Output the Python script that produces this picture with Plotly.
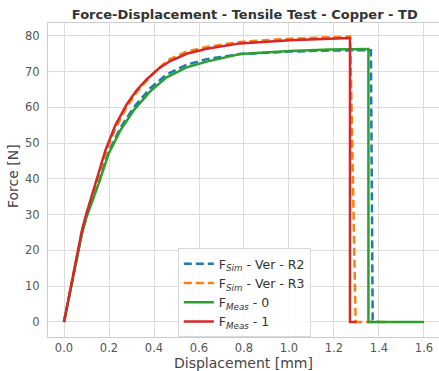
import plotly.graph_objects as go

# Simulation R2 (blue, dashed)
sim_r2_x = [0, 0.056, 0.08, 0.1, 0.154, 0.198, 0.25, 0.31, 0.382, 0.456, 0.545, 0.634, 0.782, 1.004, 1.18, 1.364, 1.372, 1.38, 1.40]
sim_r2_y = [0, 18.0, 25.0, 29.6, 39.0, 47.5, 54.2, 60.0, 65.3, 69.2, 71.9, 73.5, 74.9, 75.6, 75.9, 76.0, 0.6, 0.1, 0]

# Simulation R3 (orange, dashed)
sim_r3_x = [0, 0.056, 0.08, 0.1, 0.139, 0.184, 0.228, 0.278, 0.32, 0.367, 0.42, 0.47, 0.545, 0.634, 0.782, 1.004, 1.18, 1.272, 1.296, 1.30, 1.43]
sim_r3_y = [0, 18.3, 25.5, 30.0, 38.0, 47.0, 54.0, 60.0, 64.0, 67.5, 71.0, 73.5, 75.6, 76.9, 78.3, 79.2, 79.6, 79.8, 0.5, 0, 0]

# Measurement 0 (green)
meas0_x = [0, 0.056, 0.08, 0.1, 0.154, 0.198, 0.25, 0.31, 0.382, 0.456, 0.545, 0.634, 0.782, 1.004, 1.18, 1.353, 1.3531, 1.6]
meas0_y = [0, 17.8, 24.8, 29.3, 38.7, 47.0, 53.5, 59.2, 64.4, 68.4, 71.2, 72.8, 74.9, 75.8, 76.2, 76.3, 0, 0]

# Measurement 1 (red)
meas1_x = [0, 0.056, 0.08, 0.1, 0.139, 0.184, 0.228, 0.278, 0.32, 0.367, 0.42, 0.47, 0.545, 0.634, 0.782, 1.004, 1.18, 1.271, 1.2711, 1.30]
meas1_y = [0, 18.3, 25.7, 30.4, 38.7, 48.0, 55.0, 60.8, 64.6, 67.8, 70.8, 72.9, 75.0, 76.4, 77.9, 78.8, 79.2, 79.4, 0, 0]

x_ticks = [0.0, 0.2, 0.4, 0.6, 0.8, 1.0, 1.2, 1.4, 1.6]
y_ticks = [0, 10, 20, 30, 40, 50, 60, 70, 80]

FONT = "DejaVu Sans"

fig = go.Figure()
fig.add_trace(go.Scatter(x=sim_r2_x, y=sim_r2_y, mode="lines",
                         name="F<sub><i>Sim</i></sub> - Ver - R2",
                         line=dict(color="#1f77b4", width=2.5, dash="8px,4px")))
fig.add_trace(go.Scatter(x=sim_r3_x, y=sim_r3_y, mode="lines",
                         name="F<sub><i>Sim</i></sub> - Ver - R3",
                         line=dict(color="#ff7f0e", width=2.5, dash="8px,4px")))
fig.add_trace(go.Scatter(x=meas0_x, y=meas0_y, mode="lines",
                         name="F<sub><i>Meas</i></sub> - 0",
                         line=dict(color="#2ca02c", width=2.5)))
fig.add_trace(go.Scatter(x=meas1_x, y=meas1_y, mode="lines",
                         name="F<sub><i>Meas</i></sub> - 1",
                         line=dict(color="#d62728", width=2.5)))

axis_common = dict(
    showgrid=True, gridcolor="#dcdcdc", gridwidth=1,
    showline=True, linecolor="#cccccc", linewidth=1, mirror=True,
    ticks="", ticklen=0, zeroline=False,
    tickfont=dict(family=FONT, size=11.5, color="#555555"),
)

fig.update_layout(
    width=439, height=371,
    margin=dict(l=48, r=0, t=23, b=34),
    plot_bgcolor="white", paper_bgcolor="white",
    title=dict(text="<b>Force-Displacement - Tensile Test - Copper - TD</b>",
               x=0.5575, xanchor="center", y=0.96, yanchor="middle",
               font=dict(family=FONT, size=13, color="#333333")),
    xaxis=dict(range=[-0.0711, 1.6667], tickvals=x_ticks,
               ticktext=[f"{v:.1f}" for v in x_ticks],
               ticklabelstandoff=0, **axis_common),
    yaxis=dict(range=[-4.2, 83.6], tickvals=y_ticks,
               ticklabelstandoff=5, **axis_common),
    legend=dict(x=0.332, y=0.283, xanchor="left", yanchor="top",
                bgcolor="rgba(255,255,255,0.85)", bordercolor="#d8d8d8", borderwidth=1,
                font=dict(family=FONT, size=12.5, color="#333333"),
                itemwidth=30, tracegroupgap=0),
    showlegend=True,
    annotations=[
        dict(text="Displacement [mm]", xref="paper", yref="paper",
             x=(243 - 48) / 391, y=-(363 - 337) / 314, xanchor="center", yanchor="middle",
             showarrow=False, font=dict(family=FONT, size=14, color="#444444")),
        dict(text="Force [N]", xref="paper", yref="paper", textangle=-90,
             x=-(48 - 13) / 391, y=(337 - 176) / 314, xanchor="center", yanchor="middle",
             showarrow=False, font=dict(family=FONT, size=14, color="#444444")),
    ],
)

fig.write_html("out.html")
